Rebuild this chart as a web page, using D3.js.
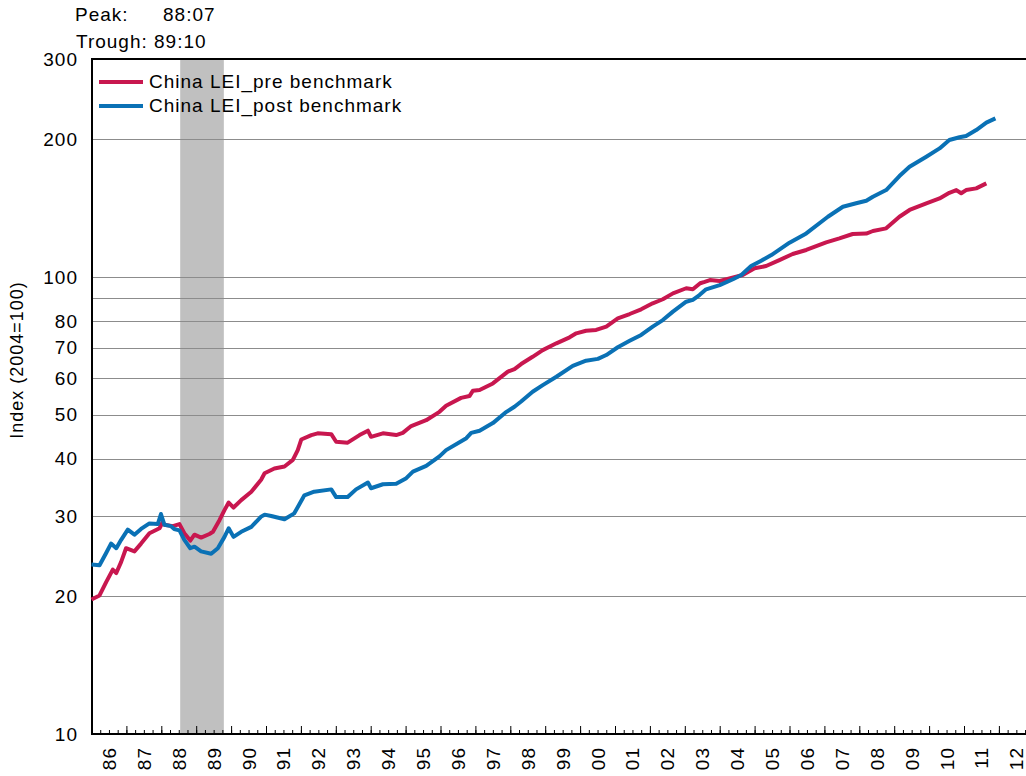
<!DOCTYPE html>
<html>
<head>
<meta charset="utf-8">
<script src="https://cdn.jsdelivr.net/npm/d3@7"></script>
<style>
  body { margin: 0; background: #fff; }
  text { font-family: "Liberation Sans", Arial, sans-serif; fill: #000; letter-spacing: 1px; }
</style>
</head>
<body>
<svg id="chart" width="1026" height="776"></svg>
<script>
// ---- data (decimal years) ----
var preDates = [1986.00, 1986.23, 1986.42, 1986.61, 1986.71, 1986.85, 1986.99, 1987.23, 1987.42, 1987.66,
  1987.95, 1988.04, 1988.09, 1988.33, 1988.52, 1988.66, 1988.83, 1988.95, 1989.14, 1989.38,
  1989.48, 1989.67, 1989.81, 1989.93, 1990.07, 1990.29, 1990.58, 1990.86, 1990.96, 1991.24,
  1991.53, 1991.77, 1991.91, 1992.01, 1992.30, 1992.48, 1992.87, 1993.01, 1993.34, 1993.68,
  1993.92, 1994.01, 1994.35, 1994.73, 1994.92, 1995.16, 1995.59, 1995.97, 1996.16, 1996.59,
  1996.83, 1996.93, 1997.12, 1997.50, 1997.93, 1998.12, 1998.31, 1998.64, 1998.93, 1999.32,
  1999.70, 1999.89, 2000.17, 2000.46, 2000.75, 2001.08, 2001.42, 2001.75, 2002.08, 2002.37,
  2002.66, 2003.04, 2003.23, 2003.44, 2003.57, 2003.72, 2004.00, 2004.28, 2004.66, 2005.00,
  2005.33, 2005.71, 2006.09, 2006.48, 2007.05, 2007.43, 2007.81, 2008.20, 2008.39, 2008.77,
  2009.15, 2009.44, 2009.92, 2010.30, 2010.58, 2010.78, 2010.92, 2011.06, 2011.35, 2011.64]
var preValues = [19.7, 20.1, 21.5, 22.9, 22.5, 23.8, 25.5, 25.1, 26.1, 27.5,
  28.2, 29.1, 28.7, 28.5, 28.8, 27.5, 26.5, 27.3, 26.9, 27.4,
  27.7, 29.4, 30.9, 32.1, 31.3, 32.5, 33.9, 36.0, 37.2, 38.1,
  38.5, 39.8, 41.8, 44.1, 45.1, 45.5, 45.3, 43.6, 43.4, 45.1,
  46.1, 44.7, 45.5, 45.1, 45.6, 47.2, 48.6, 50.7, 52.3, 54.4,
  54.9, 56.4, 56.6, 58.5, 62.1, 62.9, 64.5, 66.9, 69.2, 71.6,
  73.8, 75.3, 76.3, 76.6, 77.9, 81.2, 83.0, 85.0, 87.6, 89.4,
  92.1, 94.5, 94.0, 96.9, 97.6, 98.5, 98.0, 99.3, 101.0, 104.5,
  105.7, 108.9, 112.3, 114.6, 119.1, 121.5, 124.2, 124.5, 126.1, 127.8,
  135.5, 140.2, 145.0, 148.6, 152.9, 155.0, 152.5, 155.0, 156.3, 160.3]

var postDates = [1986.00, 1986.23, 1986.42, 1986.56, 1986.71, 1986.85, 1987.04, 1987.23, 1987.42, 1987.66,
  1987.90, 1987.99, 1988.09, 1988.28, 1988.37, 1988.52, 1988.66, 1988.83, 1988.95, 1989.14,
  1989.43, 1989.62, 1989.81, 1989.93, 1990.07, 1990.29, 1990.58, 1990.86, 1990.96, 1991.15,
  1991.53, 1991.81, 1992.10, 1992.38, 1992.87, 1993.01, 1993.34, 1993.58, 1993.92, 1994.01,
  1994.35, 1994.73, 1995.02, 1995.21, 1995.59, 1995.97, 1996.16, 1996.74, 1996.88, 1997.12,
  1997.50, 1997.89, 1998.12, 1998.31, 1998.64, 1998.93, 1999.32, 1999.79, 2000.17, 2000.51,
  2000.75, 2001.08, 2001.42, 2001.75, 2002.08, 2002.37, 2002.66, 2003.04, 2003.23, 2003.42,
  2003.61, 2004.00, 2004.38, 2004.62, 2004.90, 2005.19, 2005.48, 2006.00, 2006.48, 2007.10,
  2007.53, 2007.91, 2008.20, 2008.39, 2008.77, 2009.15, 2009.44, 2009.92, 2010.30, 2010.58,
  2010.87, 2011.06, 2011.35, 2011.64, 2011.90]
var postValues = [23.5, 23.4, 24.9, 26.1, 25.5, 26.6, 28.0, 27.3, 28.1, 28.9,
  28.8, 30.3, 28.7, 28.5, 28.1, 27.9, 26.6, 25.5, 25.7, 25.1,
  24.8, 25.5, 27.0, 28.2, 27.0, 27.7, 28.4, 29.9, 30.2, 30.0,
  29.5, 30.4, 33.3, 33.9, 34.3, 33.0, 33.0, 34.3, 35.5, 34.5,
  35.2, 35.3, 36.3, 37.5, 38.6, 40.5, 41.8, 44.4, 45.6, 46.1,
  47.9, 50.7, 52.0, 53.4, 56.1, 58.0, 60.5, 63.9, 65.6, 66.2,
  67.5, 70.2, 72.5, 74.7, 77.9, 80.5, 84.0, 88.3, 89.1, 91.3,
  94.0, 96.0, 98.9, 101.0, 105.7, 108.6, 111.7, 118.9, 124.6, 135.5,
  142.5, 145.0, 146.9, 149.9, 155.0, 166.3, 174.3, 183.4, 191.2, 199.5,
  202.2, 203.5, 209.7, 217.7, 222.4]

var seriesNames = ["China LEI_pre benchmark", "China LEI_post benchmark"]
var seriesColors = ["#C8174F", "#0A71B5"]
var yLabels = [10, 20, 30, 40, 50, 60, 70, 80, 100, 200, 300]
var yGrid = [20, 30, 40, 50, 60, 70, 80, 90, 100, 200]
var yearLabels = ["86", "87", "88", "89", "90", "91", "92", "93", "94", "95", "96", "97", "98", "99",
  "00", "01", "02", "03", "04", "05", "06", "07", "08", "09", "10", "11", "12"]
var recession = { peak: 1988 + 6.5 / 12, trough: 1989 + 9.5 / 12 }

// ---- setup ----
var svg = d3.select('#chart')
var margin = { left: 92, top: 59, bottom: 42 }
var plotBottom = 776 - margin.bottom
var fontSize = '19px'

var x = d3.scaleLinear()
    .domain([1986, 2013])
    .range([91.5, 91.5 + 27 * 34.9])

var y = d3.scaleLog()
    .domain([10, 300])
    .range([plotBottom, margin.top])

// recession shade
svg.append('rect')
    .attr('x', x(recession.peak))
    .attr('y', margin.top)
    .attr('width', x(recession.trough) - x(recession.peak))
    .attr('height', plotBottom - margin.top)
    .style('fill', '#C0C0C0')

// gridlines
svg.selectAll('.grid')
    .data(yGrid)
    .enter()
    .append('line')
    .attr('class', 'grid')
    .attr('x1', margin.left)
    .attr('x2', 1026)
    .attr('y1', function (d) { return Math.round(y(d)) + 0.5 })
    .attr('y2', function (d) { return Math.round(y(d)) + 0.5 })
    .style('stroke', '#8c8c8c')
    .style('stroke-width', 1)

// y axis labels
var yAxis = d3.axisLeft(y)
    .tickValues(yLabels)
    .tickFormat(d3.format('d'))
    .tickSize(0)
    .tickPadding(14)

var gy = svg.append('g')
    .attr('transform', 'translate(' + margin.left + ',0)')
    .call(yAxis)
gy.select('.domain').remove()
gy.selectAll('text')
    .style('font-size', fontSize)
    .style('font-family', '"Liberation Sans", Arial, sans-serif')

// x axis ticks (quarterly minor, yearly major)
var quarters = d3.range(1986, 2013.01, 0.25)
var years = d3.range(1986, 2014, 1)

var gxMinor = svg.append('g')
    .attr('transform', 'translate(0,' + plotBottom + ')')
    .call(d3.axisBottom(x).tickValues(quarters).tickSize(-4).tickFormat(''))
var gxMajor = svg.append('g')
    .attr('transform', 'translate(0,' + plotBottom + ')')
    .call(d3.axisBottom(x).tickValues(years).tickSize(-8).tickFormat(''))
gxMinor.select('.domain').remove()
gxMajor.select('.domain').remove()
svg.selectAll('.tick line').style('stroke', '#000').style('stroke-width', 1)

// year labels, rotated, centred in each year
svg.selectAll('.yearlab')
    .data(yearLabels)
    .enter()
    .append('text')
    .attr('class', 'yearlab')
    .attr('transform', function (d, i) { return 'translate(' + (x(1986 + i + 0.5) + 7) + ',747) rotate(-90)' })
    .attr('text-anchor', 'end')
    .style('font-size', fontSize)
    .text(function (d) { return d })

// frame: left, bottom, top
svg.append('line')
    .attr('x1', margin.left).attr('x2', margin.left)
    .attr('y1', margin.top - 1).attr('y2', plotBottom + 1)
    .style('stroke', '#000').style('stroke-width', 2)
svg.append('line')
    .attr('x1', margin.left - 1).attr('x2', 1026)
    .attr('y1', plotBottom).attr('y2', plotBottom)
    .style('stroke', '#000').style('stroke-width', 2)
svg.append('line')
    .attr('x1', margin.left - 1).attr('x2', 1026)
    .attr('y1', margin.top).attr('y2', margin.top)
    .style('stroke', '#000').style('stroke-width', 2)

// series
var line = d3.line()
    .x(function (d) { return x(d[0]) })
    .y(function (d) { return y(d[1]) })

var series = [
    d3.zip(preDates, preValues),
    d3.zip(postDates, postValues)
]

svg.selectAll('.series')
    .data(series)
    .enter()
    .append('path')
    .attr('class', 'series')
    .attr('d', line)
    .style('fill', 'none')
    .style('stroke', function (d, i) { return seriesColors[i] })
    .style('stroke-width', 4)
    .style('stroke-linejoin', 'round')

// legend
var legend = svg.selectAll('.legend')
    .data(seriesNames)
    .enter()
    .append('g')
    .attr('class', 'legend')
    .attr('transform', function (d, i) { return 'translate(99,' + (82 + i * 24) + ')' })
legend.append('line')
    .attr('x1', 0).attr('x2', 44)
    .style('stroke', function (d, i) { return seriesColors[i] })
    .style('stroke-width', 4)
legend.append('text')
    .attr('x', 50)
    .attr('y', 6)
    .style('font-size', fontSize)
    .text(function (d) { return d })

// peak / trough note
svg.append('text').attr('x', 75).attr('y', 21).style('font-size', fontSize).text('Peak:')
svg.append('text').attr('x', 163).attr('y', 21).style('font-size', fontSize).text('88:07')
svg.append('text').attr('x', 76).attr('y', 48).style('font-size', fontSize).text('Trough: 89:10')

// y title
svg.append('text')
    .attr('transform', 'translate(23,360) rotate(-90)')
    .attr('text-anchor', 'middle')
    .style('font-size', '18px')
    .text('Index (2004=100)')
</script>
</body>
</html>
